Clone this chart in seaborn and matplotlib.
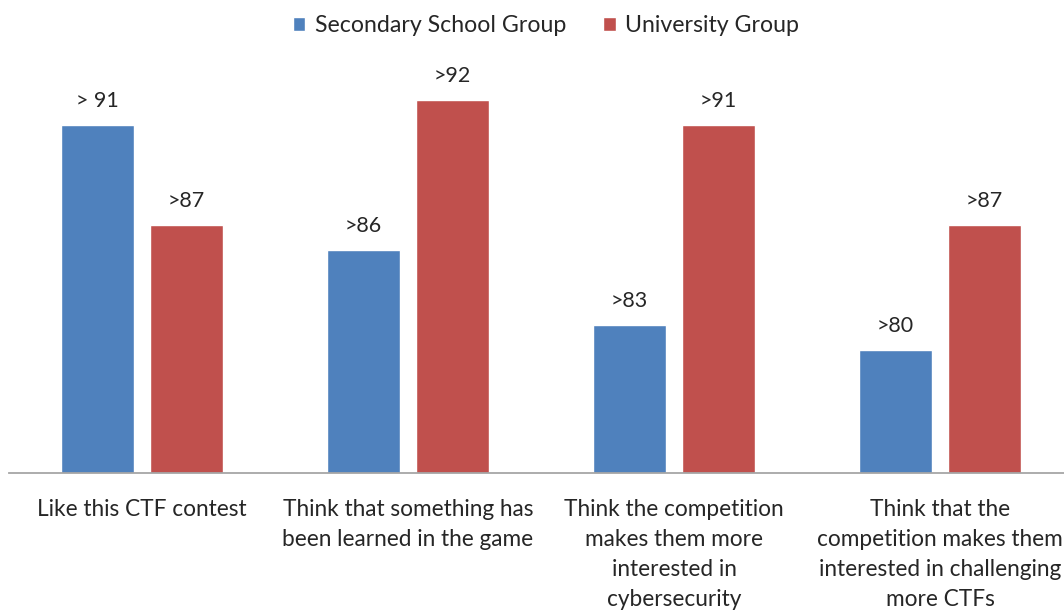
import matplotlib
matplotlib.use("Agg")
import matplotlib.pyplot as plt
import seaborn as sns
import pandas as pd

# Encuesta CTF: porcentaje por grupo

categorias = [
    "Like this CTF contest",
    "Think that something has\nbeen learned in the game",
    "Think the competition\nmakes them more\ninterested in\ncybersecurity",
    "Think that the\ncompetition makes them\ninterested in challenging\nmore CTFs",
]
grupos = ["Secondary School Group", "University Group"]
# alturas leidas de las barras (las etiquetas dicen ">" y no siempre coinciden)
secundaria = [91, 86, 83, 82]
universidad = [87, 92, 91, 87]
etiquetas_sec = ["> 91", ">86", ">83", ">80"]
etiquetas_uni = [">87", ">92", ">91", ">87"]
colores = ["#4F81BD", "#C0504D"]

df = pd.DataFrame({
    "categoria": categorias * 2,
    "grupo": [grupos[0]] * 4 + [grupos[1]] * 4,
    "valor": secundaria + universidad,
})

sns.set_style("white")
plt.rcParams["font.family"] = ["Lato", "DejaVu Sans"]

fig = plt.figure(figsize=(10.64, 6.10), dpi=100)
ax = fig.add_axes([9 / 1064, 137 / 610, 1064 / 1064, 425 / 610])

sns.barplot(data=df, x="categoria", y="valor", hue="grupo", palette=colores,
            width=0.67, gap=0.19, ax=ax, saturation=1, legend=True)

ax.set_ylim(77.08, 94.08)
ax.set_xlim(-0.5, 3.5)

ax.bar_label(ax.containers[0], labels=etiquetas_sec, padding=10, fontsize=15.5)
ax.bar_label(ax.containers[1], labels=etiquetas_uni, padding=10, fontsize=15.5)

ax.set_xlabel("")
ax.set_ylabel("")
ax.set_yticks([])
ax.tick_params(axis="x", length=0, pad=19, labelsize=16.3)
for t in ax.get_xticklabels():
    t.set_linespacing(1.52)
    t.set_verticalalignment("top")

for s in ["top", "right", "left"]:
    ax.spines[s].set_visible(False)
ax.spines["bottom"].set_color("#A6A6A6")
ax.spines["bottom"].set_linewidth(1.3)

handles, labels = ax.get_legend_handles_labels()
ax.get_legend().remove()
fig.legend(handles, labels, loc="upper center", bbox_to_anchor=(546 / 1064, 1.01),
           ncol=2, frameon=False, fontsize=16.7, handlelength=0.55, handleheight=0.55,
           handletextpad=0.4, columnspacing=1.6)

fig.savefig("out.png", dpi=100)
